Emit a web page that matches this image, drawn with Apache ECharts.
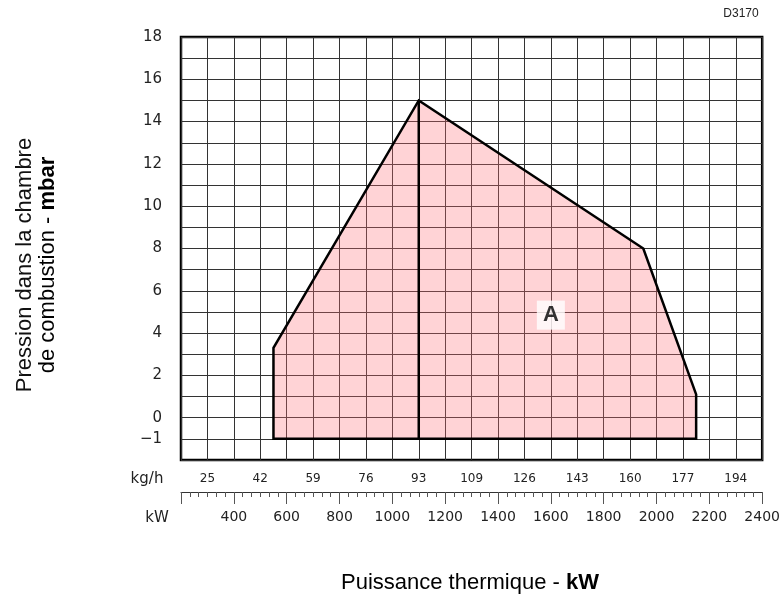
<!DOCTYPE html>
<html>
<head>
<meta charset="utf-8">
<script src="https://cdn.jsdelivr.net/npm/echarts@6/dist/echarts.min.js"></script>
<style>html,body{margin:0;padding:0;background:#fff}#c{width:783px;height:600px}</style>
</head>
<body>
<div id="c"></div>
<script>
// ---- data ----
const kwMin = 200, kwMax = 2400;
const mbarMin = -2, mbarMax = 18;
const kwTickLabels = [400, 600, 800, 1000, 1200, 1400, 1600, 1800, 2000, 2200, 2400];
const kghTickKW = [300, 500, 700, 900, 1100, 1300, 1500, 1700, 1900, 2100, 2300];
const kghTickLabels = ['25', '42', '59', '76', '93', '109', '126', '143', '160', '177', '194'];
const mbarTickLabels = [-1, 0, 2, 4, 6, 8, 10, 12, 14, 16, 18];
const envelopeKW = [550, 550, 1100, 1950, 2150, 2150];
const envelopeMbar = [-1, 3.3, 15, 8, 1.1, -1];
const dividerKW = [1100, 1100];
const dividerMbar = [-1, 15];
const areaLabel = 'A';
const areaLabelKW = 1600, areaLabelMbar = 4.85;

const envelope = envelopeKW.map((x, i) => [x, envelopeMbar[i]]);
const divider = dividerKW.map((x, i) => [x, dividerMbar[i]]);

const chart = echarts.init(document.getElementById('c'), null, {renderer: 'canvas'});
const tickFont = 'DejaVu Sans';
chart.setOption({
  animation: false,
  backgroundColor: '#fff',
  grid: {left: 181, right: 20, top: 37, bottom: 140, show: true, borderColor: '#000', borderWidth: 2.5, backgroundColor: 'transparent'},
  xAxis: [
    {type: 'value', min: kwMin, max: kwMax, interval: 100,
     axisLine: {show: false}, axisTick: {show: false}, axisLabel: {show: false},
     splitLine: {show: true, lineStyle: {color: '#333', width: 1}}},
    {type: 'value', min: kwMin, max: kwMax, interval: 100, position: 'bottom', offset: 0,
     axisLine: {show: false}, axisTick: {show: false}, splitLine: {show: false},
     axisLabel: {margin: 13, fontSize: 12, fontFamily: tickFont, color: '#222',
       formatter: v => { const i = kghTickKW.indexOf(v); return i >= 0 ? kghTickLabels[i] : ''; }}},
    {type: 'value', min: kwMin, max: kwMax, interval: 200, position: 'bottom', offset: 32,
     axisLine: {show: true, onZero: false, lineStyle: {color: '#333', width: 1}},
     axisTick: {show: true, length: 12, lineStyle: {color: '#555', width: 1}},
     minorTick: {show: true, splitNumber: 6, length: 5, lineStyle: {color: '#555', width: 1}},
     splitLine: {show: false},
     axisLabel: {margin: 18, fontSize: 14, fontFamily: tickFont, color: '#222',
       formatter: v => kwTickLabels.indexOf(v) >= 0 ? String(v) : ''}}
  ],
  yAxis: {type: 'value', min: mbarMin, max: mbarMax, interval: 1,
    axisLine: {show: false}, axisTick: {show: false},
    splitLine: {show: true, lineStyle: {color: '#333', width: 1}},
    axisLabel: {margin: 19, fontSize: 15, fontFamily: tickFont, color: '#222',
      formatter: v => mbarTickLabels.indexOf(v) >= 0 ? (v < 0 ? '\u2212' + Math.abs(v) : String(v)) : ''}},
  graphic: [
    {type: 'text', x: 741, y: 14, style: {text: 'D3170', font: '12px "Liberation Sans", Arial', fill: '#222', align: 'center', verticalAlign: 'middle'}},
    {type: 'text', x: 147, y: 479, style: {text: 'kg/h', font: '15px "DejaVu Sans"', fill: '#222', align: 'center', verticalAlign: 'middle'}},
    {type: 'text', x: 157, y: 518, style: {text: 'kW', font: '15px "DejaVu Sans"', fill: '#222', align: 'center', verticalAlign: 'middle'}},
    {type: 'text', x: 470, y: 583, style: {
      text: '{n|Puissance thermique - }{b|kW}', align: 'center', verticalAlign: 'middle',
      rich: {n: {fontSize: 22, fontFamily: 'Liberation Sans', color: '#111'}, b: {fontSize: 22, fontFamily: 'Liberation Sans', fontWeight: 'bold', color: '#111'}}}},
    {type: 'text', x: 25, y: 265, rotation: Math.PI / 2, style: {
      text: 'Pression dans la chambre', align: 'center', verticalAlign: 'middle',
      font: '22px "Liberation Sans"', fill: '#111'}},
    {type: 'text', x: 48, y: 265, rotation: Math.PI / 2, style: {
      text: '{n|de combustion - }{b|mbar}', align: 'center', verticalAlign: 'middle',
      rich: {n: {fontSize: 22, fontFamily: 'Liberation Sans', color: '#111'}, b: {fontSize: 22, fontFamily: 'Liberation Sans', fontWeight: 'bold', color: '#111'}}}}
  ],
  series: [
    {type: 'custom', xAxisIndex: 0, yAxisIndex: 0, data: envelope,
     renderItem: (params, api) => {
       if (params.dataIndex !== 0) return null;
       const pts = envelope.map(p => api.coord(p));
       return {type: 'polygon', shape: {points: pts},
         style: {fill: 'rgba(255,110,120,0.3)', stroke: '#000', lineWidth: 2.5, lineJoin: 'miter'}};
     }},
    {type: 'line', xAxisIndex: 0, yAxisIndex: 0, data: divider, symbol: 'none',
     lineStyle: {color: '#000', width: 2.5}},
    {type: 'scatter', xAxisIndex: 0, yAxisIndex: 0, data: [[areaLabelKW, areaLabelMbar]],
     symbol: 'rect', symbolSize: [28, 29], itemStyle: {color: '#fff'},
     label: {show: true, position: 'inside', formatter: areaLabel, fontSize: 22, fontWeight: 'bold', fontFamily: 'Liberation Sans', color: '#000'}}
  ]
});
</script>
</body>
</html>
